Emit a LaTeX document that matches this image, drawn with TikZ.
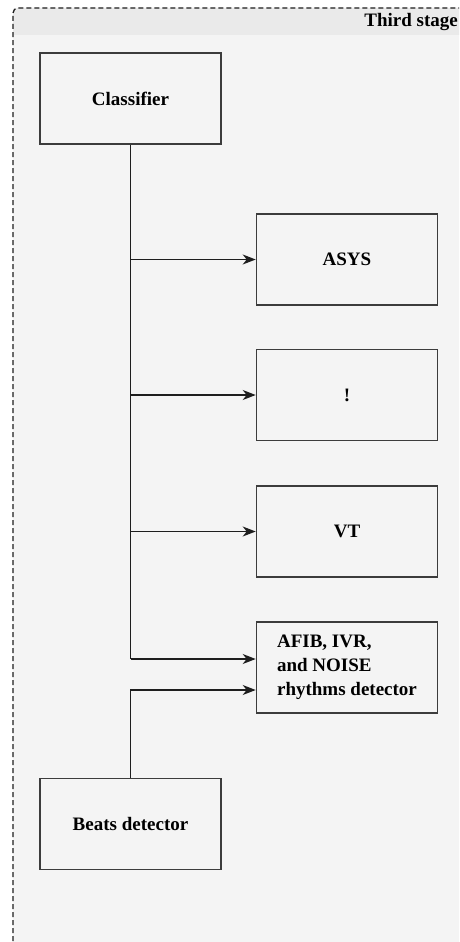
\documentclass[tikz,border=0pt]{standalone}
\usepackage{fontspec}
\setmainfont{Liberation Serif}
\usetikzlibrary{arrows.meta,positioning}
\definecolor{stagefill}{RGB}{244,244,244}
\definecolor{stagehead}{RGB}{234,234,234}
\definecolor{stageline}{RGB}{30,30,30}
\definecolor{boxline}{RGB}{60,60,60}

\begin{document}
\begin{tikzpicture}[x=1pt, y=-1pt,
  block/.style={draw=boxline, line width=1.6pt, fill=stagefill, minimum width=181pt, minimum height=91pt, inner sep=0pt, align=left, font=\fontsize{19}{24}\selectfont\bfseries},
  link/.style={draw=stageline, line width=1.4pt},
  flow/.style={link, -{Stealth[length=13pt, width=10pt, inset=4pt]}}]

\useasboundingbox (0,0) rectangle (459,942);
\clip (0,0) rectangle (459,942);

% === Stage container ===
\fill[white] (0,0) rectangle (459,942);
\fill[stagefill, rounded corners=5pt] (13,8) rectangle (480,965);
\fill[stagehead] (13,35) {[rounded corners=5pt] -- (13,8) -- (480,8)} -- (480,35) -- cycle;
\draw[stageline, line width=1.3pt, dash pattern=on 5pt off 3pt, rounded corners=5pt] (13,965) -- (13,8) -- (480,8);
\node[anchor=east, inner sep=0pt, font=\fontsize{19}{22}\selectfont\bfseries] (title) at (458,22) {Third stage};

% === Blocks ===
\node[block] (cls) at (130.5,98.5) {Classifier};
\node[block] (asys) at (347,259.5) {ASYS};
\node[block] (excl) at (347,395) {!};
\node[block] (vt) at (347,531.5) {VT};
\node[block] (afib) at (347,667.5) {AFIB, IVR,\\and NOISE\\rhythms detector};
\node[block] (beats) at (130.5,824) {Beats detector};

% === Connectors ===
\coordinate (afibin) at ([yshift=8.5pt]afib.west);
\coordinate (beatsin) at ([yshift=-22.5pt]afib.west);
\coordinate (bus) at (cls.south |- afibin);
\draw[link] (cls.south) -- (bus);
\draw[flow] (cls.south |- asys.west) -- (asys.west);
\draw[flow] (cls.south |- excl.west) -- (excl.west);
\draw[flow] (cls.south |- vt.west) -- (vt.west);
\draw[flow] (bus) -- (afibin);
\draw[flow] (beats.north) |- (beatsin);

\end{tikzpicture}
\end{document}
